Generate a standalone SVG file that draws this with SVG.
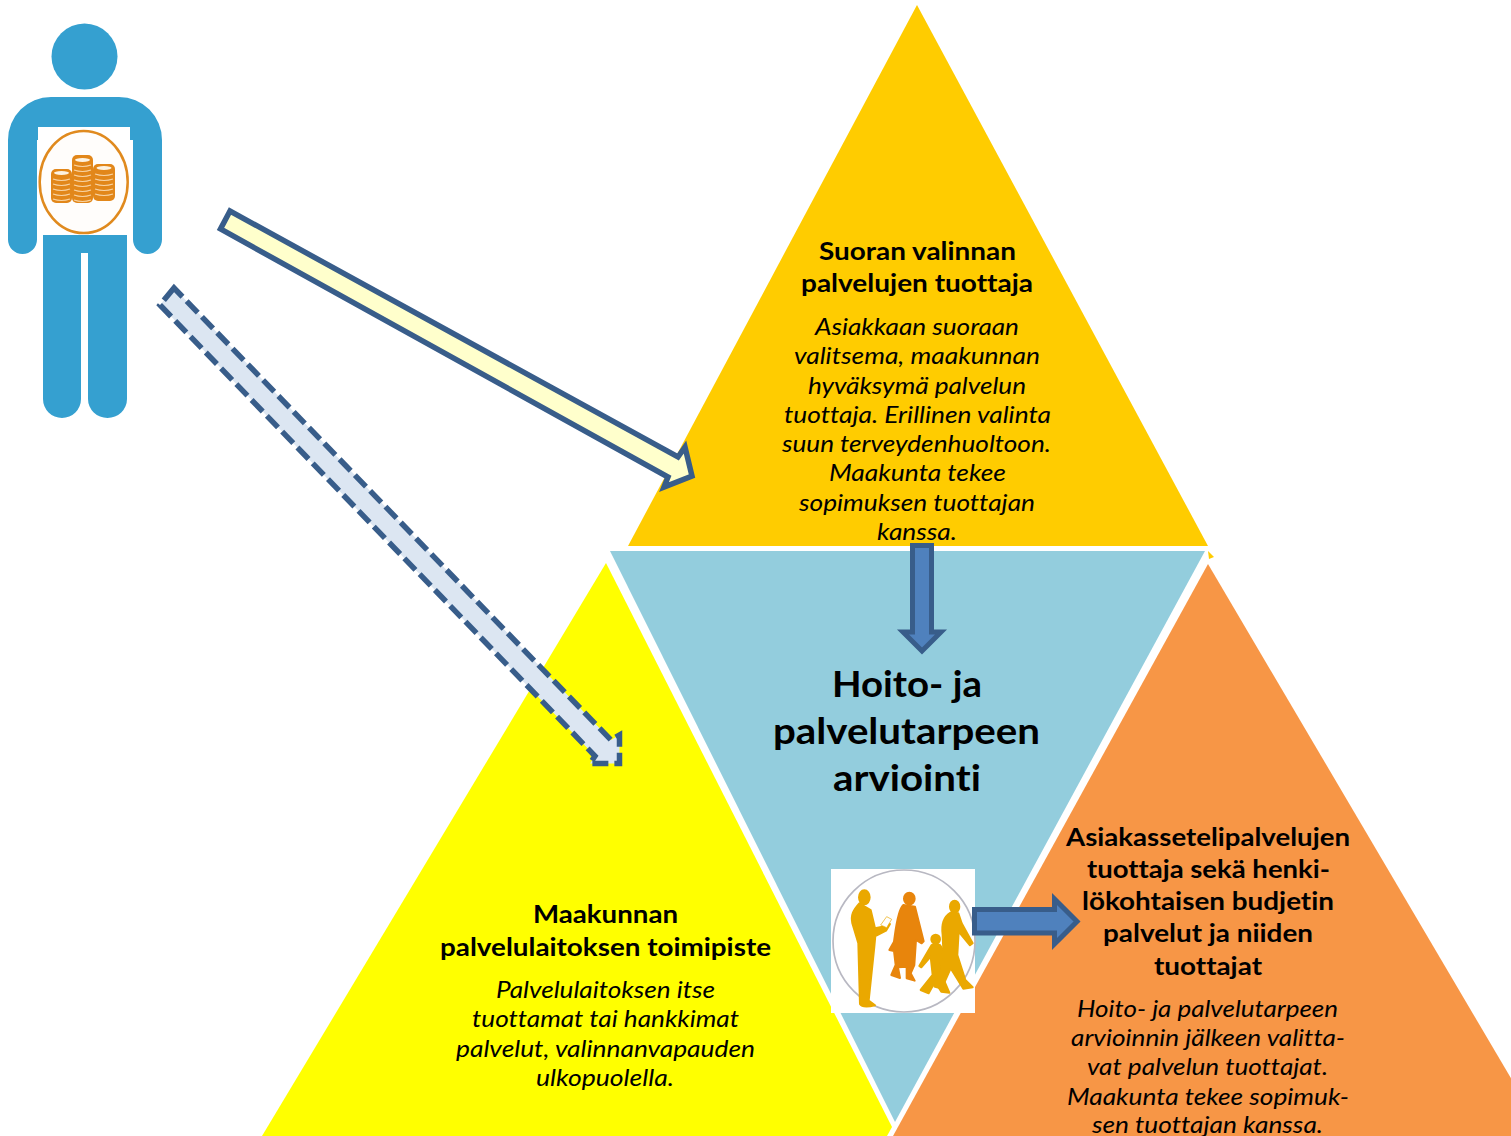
<svg xmlns="http://www.w3.org/2000/svg" width="1511" height="1136" viewBox="0 0 1511 1136">
<style>
text{font-family:Lato,"Liberation Sans",sans-serif;fill:#000;font-variant-ligatures:none}
.h{font-weight:700;font-size:24.8px}
.c{font-weight:700;font-size:36px}
.i{font-style:italic;font-size:22.4px}
.p{fill:#35a0d0}
.a{fill:#4f81bd;stroke:#385d8a;stroke-width:5}
.coin{fill:#e2871a}
.ln{stroke:#f8d3a2;stroke-width:1.200;fill:none}
.top{fill:#fdf3e2;stroke:#e2871a;stroke-width:2}
.f1{fill:#eaa800;stroke:#eaa800;stroke-width:6;stroke-linejoin:round}
.f2{fill:#e8850c;stroke:#e8850c;stroke-width:6;stroke-linejoin:round}
</style>
<rect width="1511" height="1136" fill="#fff"/>
<g id="node-suoran">
<polygon points="917,5 1208,546 628,546" fill="#ffcc00"/>
<polygon points="1208,551 1214,557 1209,559" fill="#ffcc00"/>
</g>
<g id="node-arviointi">
<polygon points="610,551 1205,551 895,1122" fill="#93cddd"/>
</g>
<g id="node-maakunta">
<polygon points="606,563 892,1127 887,1136 262,1136" fill="#ffff00"/>
</g>
<g id="node-asiakasseteli">
<polygon points="1208,564 1545,1136 893,1136" fill="#f79646"/>
</g>
<g id="node-person">
<circle class="p" cx="84.5" cy="56.5" r="33"/>
<path class="p" d="M8,239.500V140A43,43 0 0 1 51,97H119A43,43 0 0 1 162,140V239.500A14.500,14.500 0 0 1 133,239.500V140H37V239.500A14.500,14.500 0 0 1 8,239.500Z"/>
<path class="p" d="M43,230H127V399A19.500,19 0 0 1 88,399V253H81V399A19,19 0 0 1 43,399Z"/>
<path d="M38,127H130V148H133V235H37V148H38Z" fill="#fff"/>
<ellipse cx="83.700" cy="182" rx="44" ry="51" fill="#fffdfb" stroke="#e08a1e" stroke-width="2.500"/>
<g id="coins">
<rect class="coin" x="51" y="169" width="21" height="34" rx="5"/>
<rect class="coin" x="72" y="155" width="21" height="48" rx="5"/>
<rect class="coin" x="93" y="164" width="22" height="37" rx="5"/>
<path class="ln" d="M53,179Q61.500,182 70,179M53,184Q61.500,187 70,184M53,189Q61.500,192 70,189M53,194Q61.500,197 70,194M53,199Q61.500,202 70,199M74,165Q82.500,168 91,165M74,170Q82.500,173 91,170M74,175Q82.500,178 91,175M74,180Q82.500,183 91,180M74,185Q82.500,188 91,185M74,190Q82.500,193 91,190M74,195Q82.500,198 91,195M74,200Q82.500,203 91,200M95,174Q104,177 113,174M95,179Q104,182 113,179M95,184Q104,187 113,184M95,189Q104,192 113,189M95,194Q104,197 113,194"/>
<ellipse class="top" cx="61.500" cy="173" rx="8.500" ry="3"/>
<ellipse class="top" cx="82.500" cy="160" rx="8.500" ry="3"/>
<ellipse class="top" cx="104" cy="168" rx="8.500" ry="3"/>
</g>
</g>
<g id="connectors">
<polygon points="230,211 220.500,229 668,477 664,487 692,476 685,447 678,457" fill="#ffffcc" stroke="#385d8a" stroke-width="5.500"/>
<polygon points="174,288 160,305 595,756 590,763.500 619.500,763.500 619.500,735 611,740" fill="#dce6f2" stroke="#385d8a" stroke-width="5.500" stroke-dasharray="16 6"/>
<polygon class="a" points="912.500,545.500 931.500,545.500 931.500,632 941,632 922,651 903,632 912.500,632"/>
</g>
<g id="node-family">
<rect x="831" y="869" width="144" height="144" fill="#fff"/>
<circle cx="904" cy="941" r="71" fill="#fff" stroke="#b8b8c2" stroke-width="1.700"/>
<g transform="translate(820,860) scale(.3333)">
<ellipse class="f1" cx="133" cy="112" rx="16" ry="21"/>
<path class="f1" d="M118,130C100,150 92,165 97,190L115,250L120,432Q127,445 165,436L146,422L163,260L166,228L198,212L210,192L188,200L165,205L152,150Z"/>
<path d="M182,195L200,170L215,178L200,203Z" fill="#fff" stroke="#eaa800" stroke-width="2"/>
<ellipse class="f2" cx="268" cy="116" rx="16" ry="18"/>
<path class="f2" d="M250,135C232,150 226,220 222,245L208,270L222,273L227,315L214,345L240,354L234,322L260,320L260,355L284,362L272,340L283,315L288,240L305,250L311,244L295,180L285,140Z"/>
<ellipse class="f1" cx="347" cy="238" rx="13" ry="14"/>
<path class="f1" d="M335,255L298,318L304,322L332,290L338,345L302,390L326,400L345,365L364,395L388,398L365,345L362,290L375,280L360,255Z"/>
<ellipse class="f1" cx="404" cy="140" rx="14" ry="18"/>
<path class="f1" d="M392,158C372,170 364,195 368,225L370,270L355,340L343,380L365,386L392,325L430,386L458,382L436,360L412,285L416,215L450,256L458,250L425,190L415,160Z"/>
</g>
<polygon class="a" points="974.500,909.500 1054.500,909.500 1054.500,899 1077,921.500 1054.500,944 1054.500,933 974.500,933"/>
</g>
<g id="labels">
<text class="h" x="819" y="260" textLength="197" lengthAdjust="spacingAndGlyphs">Suoran valinnan</text>
<text class="h" x="801" y="292" textLength="232" lengthAdjust="spacingAndGlyphs">palvelujen tuottaja</text>
<text class="i" x="815" y="335" textLength="204" lengthAdjust="spacingAndGlyphs">Asiakkaan suoraan</text>
<text class="i" x="794" y="364" textLength="246" lengthAdjust="spacingAndGlyphs">valitsema, maakunnan</text>
<text class="i" x="808" y="394" textLength="218" lengthAdjust="spacingAndGlyphs">hyväksymä palvelun</text>
<text class="i" x="784" y="423" textLength="267" lengthAdjust="spacingAndGlyphs">tuottaja. Erillinen valinta</text>
<text class="i" x="782" y="452" textLength="269" lengthAdjust="spacingAndGlyphs">suun terveydenhuoltoon.</text>
<text class="i" x="829" y="481" textLength="177" lengthAdjust="spacingAndGlyphs">Maakunta tekee</text>
<text class="i" x="799" y="511" textLength="236" lengthAdjust="spacingAndGlyphs">sopimuksen tuottajan</text>
<text class="i" x="877" y="540" textLength="80" lengthAdjust="spacingAndGlyphs">kanssa.</text>
<text class="c" x="832" y="697" textLength="150" lengthAdjust="spacingAndGlyphs">Hoito- ja</text>
<text class="c" x="773" y="744" textLength="267" lengthAdjust="spacingAndGlyphs">palvelutarpeen</text>
<text class="c" x="833" y="791" textLength="148" lengthAdjust="spacingAndGlyphs">arviointi</text>
<text class="h" x="533" y="923" textLength="145" lengthAdjust="spacingAndGlyphs">Maakunnan</text>
<text class="h" x="440" y="956" textLength="331" lengthAdjust="spacingAndGlyphs">palvelulaitoksen toimipiste</text>
<text class="i" x="496" y="998" textLength="219" lengthAdjust="spacingAndGlyphs">Palvelulaitoksen itse</text>
<text class="i" x="472" y="1027" textLength="267" lengthAdjust="spacingAndGlyphs">tuottamat tai hankkimat</text>
<text class="i" x="456" y="1057" textLength="299" lengthAdjust="spacingAndGlyphs">palvelut, valinnanvapauden</text>
<text class="i" x="536" y="1086" textLength="138" lengthAdjust="spacingAndGlyphs">ulkopuolella.</text>
<text class="h" x="1066" y="846" textLength="284" lengthAdjust="spacingAndGlyphs">Asiakassetelipalvelujen</text>
<text class="h" x="1087" y="878" textLength="243" lengthAdjust="spacingAndGlyphs">tuottaja sekä henki-</text>
<text class="h" x="1082" y="910" textLength="252" lengthAdjust="spacingAndGlyphs">lökohtaisen budjetin</text>
<text class="h" x="1103" y="942" textLength="210" lengthAdjust="spacingAndGlyphs">palvelut ja niiden</text>
<text class="h" x="1154" y="975" textLength="108" lengthAdjust="spacingAndGlyphs">tuottajat</text>
<text class="i" x="1077" y="1017" textLength="261" lengthAdjust="spacingAndGlyphs">Hoito- ja palvelutarpeen</text>
<text class="i" x="1071" y="1046" textLength="274" lengthAdjust="spacingAndGlyphs">arvioinnin jälkeen valitta-</text>
<text class="i" x="1087" y="1075" textLength="241" lengthAdjust="spacingAndGlyphs">vat palvelun tuottajat.</text>
<text class="i" x="1067" y="1105" textLength="282" lengthAdjust="spacingAndGlyphs">Maakunta tekee sopimuk-</text>
<text class="i" x="1092" y="1133" textLength="231" lengthAdjust="spacingAndGlyphs">sen tuottajan kanssa.</text>
</g>
</svg>
